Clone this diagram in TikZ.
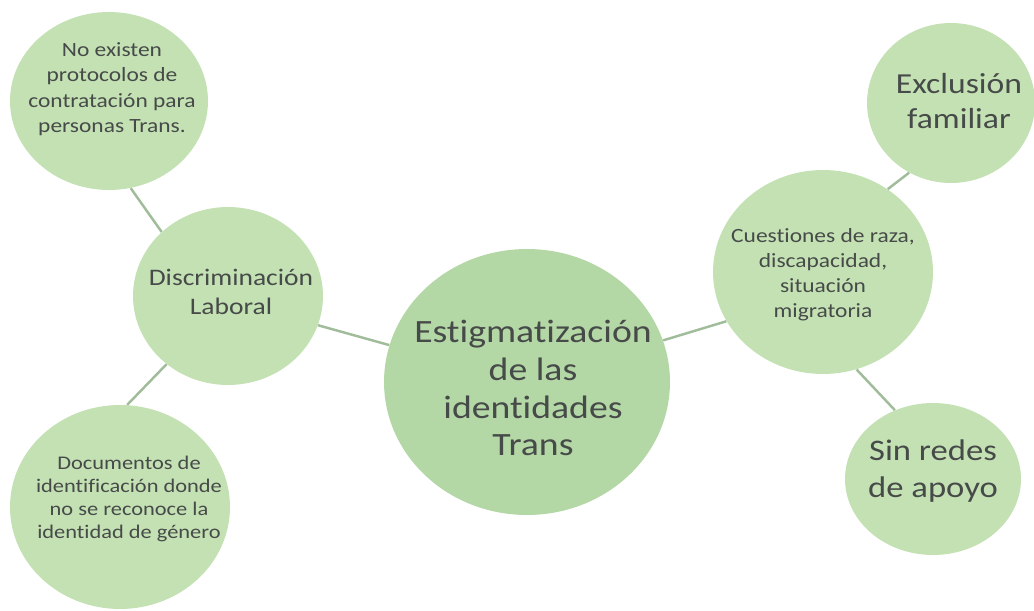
\documentclass[tikz,border=0pt]{standalone}
\usepackage{fontspec}
\setmainfont[FakeStretch=1.16, Ligatures={NoCommon,NoRare}]{Carlito}
\usetikzlibrary{shapes.geometric}
\definecolor{bubblegreen}{RGB}{196,225,180}
\definecolor{coregreen}{RGB}{180,215,166}
\definecolor{linkgreen}{RGB}{160,188,154}
\definecolor{inkgray}{RGB}{70,74,72}
\tikzset{
	bubble/.style={ellipse, fill=bubblegreen, draw=none, inner sep=0pt},
	txt/.style={align=center, text=inkgray, inner sep=0pt},
	link/.style={draw=linkgreen, line width=1.4pt}
}
\def\fsz#1#2{\fontsize{#1}{#2}\selectfont}

\begin{document}
\begin{tikzpicture}[x=0.02cm, y=-0.02cm]
			%%%%% START %%%%%
			\useasboundingbox (0, 0) rectangle (1034, 611);
			
			% centres of the bubbles
			\coordinate (tl-c) at (109, 101);
			\coordinate (disc-c) at (228, 296);
			\coordinate (doc-c) at (120, 507);
			\coordinate (mid-c) at (527, 382);
			\coordinate (cuest-c) at (823, 272);
			\coordinate (excl-c) at (951, 103);
			\coordinate (sin-c) at (933, 479);
			
			\node[bubble, minimum width=3.96cm, minimum height=3.56cm] (tl) at (tl-c) {};
			\node[bubble, minimum width=3.8cm, minimum height=3.56cm] (disc) at (disc-c) {};
			\node[bubble, minimum width=4.4cm, minimum height=4.08cm] (doc) at (doc-c) {};
			\node[bubble, fill=coregreen, minimum width=5.72cm, minimum height=5.32cm] (mid) at (mid-c) {};
			\node[bubble, minimum width=4.4cm, minimum height=4.08cm] (cuest) at (cuest-c) {};
			\node[bubble, minimum width=3.36cm, minimum height=3.2cm] (excl) at (excl-c) {};
			\node[bubble, minimum width=3.52cm, minimum height=3.04cm] (sin) at (sin-c) {};
			
			\draw[link] (tl.284) -- (disc.136);
			\draw[link] (disc.228) -- (doc.86);
			\draw[link] (disc.-18) -- (mid.165);
			\draw[link] (mid.17) -- (cuest.207);
			\draw[link] (cuest.52) -- (excl.239);
			\draw[link] (cuest.289) -- (sin.119);
			
			% texts
			\node[txt, font=\fsz{11.5}{14.5}] (tl-t) at (112, 89) {No existen\\protocolos de\\contratación para\\personas Trans.};
			\node[txt, font=\fsz{13.5}{16.5}] (disc-t) at (231, 292) {Discriminación\\Laboral};
			\node[txt, font=\fsz{11}{13.2}] (doc-t) at (129, 499) {Documentos de\\identificación donde\\no se reconoce la\\identidad de género};
			\node[txt, font=\fsz{18.5}{21.6}] (mid-t) at (533, 388) {Estigmatización\\de las\\identidades\\Trans};
			\node[txt, font=\fsz{11.5}{14.2}] (cuest-t) at (823, 275) {Cuestiones de raza,\\discapacidad,\\situación\\migratoria};
			\node[txt, font=\fsz{16.5}{20}] (excl-t) at (959, 101) {Exclusión\\familiar};
			\node[txt, font=\fsz{17}{21}] (sin-t) at (933, 471) {Sin redes\\de apoyo};
			
			%%%%% END %%%%%
\end{tikzpicture}
\end{document}
